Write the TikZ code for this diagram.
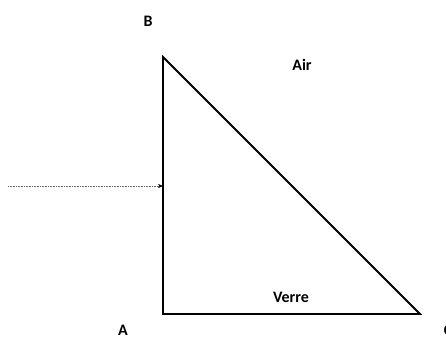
\documentclass[tikz,border=0pt]{standalone}
\usepackage{fontspec}
\setmainfont{Carlito}
\usetikzlibrary{arrows.meta}
\begin{document}
\begin{tikzpicture}[x=1pt,y=-1pt,
  lbl/.style={font=\fontsize{16}{18}\selectfont\bfseries, inner sep=0pt},
  edge/.style={line width=1.8pt, line join=miter},
  ray/.style={densely dotted, line width=0.6pt, draw=black!60, -{Stealth[length=5pt,width=4pt,black]}}]
\useasboundingbox (0,0) rectangle (446,338);
\coordinate (B) at (163,57);
\coordinate (A) at (163,314);
\coordinate (C) at (420,314);
\draw[edge] (B) -- (A) -- (C) -- cycle;
\node[lbl] (lB) at (148,21) {B};
\node[lbl] (lA) at (123,330) {A};
\node[lbl] (lC) at (448,330) {C};
\node[lbl] (air) at (302,65) {Air};
\node[lbl] (verre) at (291,297) {Verre};
\coordinate (src) at (8,186);
\coordinate (hit) at (163,186);
\draw[ray] (src) -- (hit);
\end{tikzpicture}
\end{document}
